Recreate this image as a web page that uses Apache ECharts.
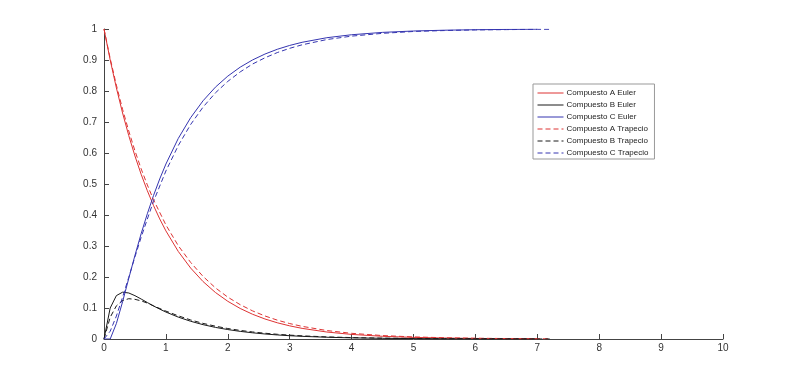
<!DOCTYPE html>
<html>
<head>
<meta charset="utf-8">
<script src="https://cdn.jsdelivr.net/npm/echarts@6/dist/echarts.min.js"></script>
<style>html,body{margin:0;padding:0;background:#fff;}#c{width:800px;height:382px;}</style>
</head>
<body>
<div id="c"></div>
<script>
// x ticks / y ticks
var xTicks = [0,1,2,3,4,5,6,7,8,9,10];
var yTicks = [0,0.1,0.2,0.3,0.4,0.5,0.6,0.7,0.8,0.9,1];

// Euler (solid)
var tEuler = [0,0.1,0.2,0.3,0.4,0.5,0.6,0.7,0.8,0.9,1.0,1.2,1.4,1.6,1.8,2.0,2.2,2.4,2.6,2.8,3.0,3.2,3.6,4.0,4.5,5.0,5.5,6.0,6.5,7.0];
var aEuler = [1,0.9,0.81,0.729,0.6561,0.5905,0.5314,0.4783,0.4305,0.3874,0.3487,0.2824,0.2288,0.1853,0.1501,0.1216,0.0985,0.0798,0.0646,0.0523,0.0424,0.0343,0.0225,0.0148,0.0087,0.0052,0.0031,0.0018,0.0011,0.0006];
var bEuler = [0,0.1,0.14,0.151,0.1484,0.1398,0.129,0.1176,0.1066,0.0964,0.0869,0.0706,0.0572,0.0463,0.0375,0.0304,0.0246,0.02,0.0162,0.0131,0.0106,0.0086,0.0056,0.0037,0.0022,0.0013,0.0008,0.0005,0.0003,0.0001];
var cEuler = [0,0,0.05,0.12,0.1955,0.2697,0.3396,0.4041,0.4629,0.5162,0.5644,0.647,0.714,0.7684,0.8124,0.848,0.8769,0.9002,0.9192,0.9346,0.947,0.9571,0.9719,0.9815,0.9891,0.9935,0.9961,0.9977,0.9986,0.9993];

// Trapecio (dashed)
var tTrap = [0,0.1,0.2,0.3,0.4,0.5,0.6,0.7,0.8,1.0,1.2,1.4,1.6,1.8,2.0,2.2,2.4,2.6,2.8,3.0,3.2,3.6,4.0,4.5,5.0,5.5,6.0,6.5,7.0,7.2];
var aTrap = [1,0.905,0.819,0.741,0.671,0.607,0.549,0.497,0.449,0.368,0.301,0.247,0.202,0.165,0.135,0.1108,0.0907,0.0743,0.0608,0.0498,0.0408,0.0273,0.0183,0.0111,0.0067,0.0041,0.0025,0.0015,0.0009,0.0007];
var bTrap = [0,0.07,0.107,0.124,0.13,0.128,0.123,0.116,0.107,0.09,0.0747,0.0614,0.0504,0.0413,0.0338,0.0277,0.0227,0.0186,0.0152,0.0125,0.0102,0.0068,0.0046,0.0028,0.0017,0.001,0.0006,0.0004,0.0002,0.0002];
var cTrap = [0,0.025,0.074,0.135,0.199,0.265,0.328,0.387,0.444,0.542,0.624,0.692,0.748,0.794,0.831,0.8615,0.887,0.9071,0.924,0.9377,0.949,0.966,0.977,0.986,0.992,0.995,0.997,0.998,0.999,0.999];

var names = ['Compuesto A Euler','Compuesto B Euler','Compuesto C Euler','Compuesto A Trapecio','Compuesto B Trapecio','Compuesto C Trapecio'];
var RED = '#dd3333', BLACK = '#1a1a1a', BLUE = '#3535b0';

function pairs(t, v){ return t.map(function(x,i){ return [x, v[i]]; }); }
function mk(name, t, v, color, dashed){
  return {
    name: name, type: 'line', data: pairs(t, v), symbol: 'none', showSymbol: false,
    smooth: false, animation: false,
    lineStyle: { color: color, width: 1, type: dashed ? [5,3] : 'solid' },
    itemStyle: { color: color }
  };
}

var chart = echarts.init(document.getElementById('c'), null, {renderer:'canvas'});
chart.setOption({
  backgroundColor: '#fff',
  animation: false,
  grid: { left: 104, right: 77, top: 29, bottom: 43, containLabel: false },
  legend: {
    orient: 'vertical', left: 533, top: 84,
    itemWidth: 26, itemHeight: 10, itemGap: 4,
    padding: [5, 6, 2, 4],
    backgroundColor: '#fff', borderColor: '#999', borderWidth: 1,
    itemStyle: { opacity: 0 },
    lineStyle: { width: 1 },
    textStyle: { fontFamily: 'Liberation Sans, Arial, sans-serif', fontSize: 8, color: '#222', padding: [0,0,0,-2] },
    data: names
  },
  xAxis: {
    type: 'value', min: 0, max: 10, interval: 1,
    axisLine: { show: true, lineStyle: { color: '#444', width: 1 } },
    axisTick: { show: true, inside: true, length: 5, lineStyle: { color: '#444' } },
    axisLabel: { color: '#333', fontSize: 10, fontFamily: 'Liberation Sans, Arial, sans-serif', margin: 4,
      formatter: function(v){ return xTicks.indexOf(v) >= 0 ? String(v) : ''; } },
    splitLine: { show: false }
  },
  yAxis: {
    type: 'value', min: 0, max: 1, interval: 0.1,
    axisLine: { show: true, lineStyle: { color: '#444', width: 1 } },
    axisTick: { show: true, inside: true, length: 5, lineStyle: { color: '#444' } },
    axisLabel: { color: '#333', fontSize: 10, fontFamily: 'Liberation Sans, Arial, sans-serif', margin: 7,
      formatter: function(v){ var r = Math.round(v*10)/10; return String(r); } },
    splitLine: { show: false }
  },
  series: [
    mk(names[0], tEuler, aEuler, RED, false),
    mk(names[1], tEuler, bEuler, BLACK, false),
    mk(names[2], tEuler, cEuler, BLUE, false),
    mk(names[3], tTrap, aTrap, RED, true),
    mk(names[4], tTrap, bTrap, BLACK, true),
    mk(names[5], tTrap, cTrap, BLUE, true)
  ]
});
</script>
</body>
</html>
